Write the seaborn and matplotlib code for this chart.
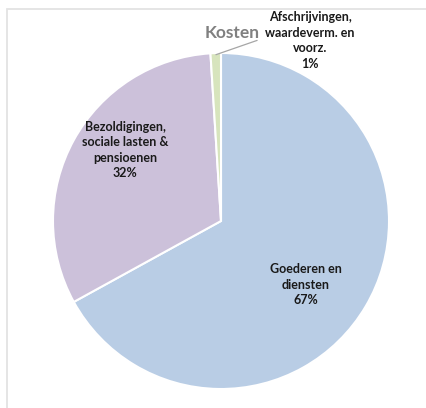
import numpy as np
import matplotlib
matplotlib.use("Agg")
import matplotlib.pyplot as plt
import seaborn as sns
from matplotlib.patches import Rectangle

categories = ["Goederen en\ndiensten", "Bezoldigingen,\nsociale lasten &\npensioenen",
              "Afschrijvingen,\nwaardeverm. en\nvoorz."]
values = [67, 32, 1]
colors = ["#B9CDE5", "#CCC1DA", "#D7E4BD"]

sns.set_theme(style="white")
plt.rcParams['font.family'] = ['Lato', 'DejaVu Sans']

fig = plt.figure(figsize=(4.26, 4.08), dpi=100)
fig.patch.set_facecolor("white")

# light frame like the spreadsheet chart area
fig.patches.append(Rectangle((7 / 426, -0.1), 1.2, 1 - 9 / 408 + 0.1, transform=fig.transFigure,
                             fill=False, edgecolor="#E3E3E3", linewidth=1.3))

cx, cy, r = 221, 221, 168
ax = fig.add_axes([(cx - r) / 426, (408 - cy - r) / 408, 2 * r / 426, 2 * r / 408])
wedges, _ = ax.pie(values, colors=sns.color_palette(colors), startangle=90, counterclock=False,
                   wedgeprops={"linewidth": 1.5, "edgecolor": "white"})
ax.set_xlim(-1, 1)
ax.set_ylim(-1, 1)
ax.set_aspect("auto")
ax.axis("off")

# label placement (radius, angle in degrees) like the Excel best-fit labels
label_pos = [(0.63, -37), (0.71, 143.5)]

fs = 9
for i, (w, lab, v) in enumerate(zip(wedges, categories, values)):
    txt = f"{lab}\n{v}%"
    if i < 2:
        rr, ang = label_pos[i]
        a = np.deg2rad(ang)
        ax.text(rr * np.cos(a), rr * np.sin(a), txt, ha="center", va="center",
                fontsize=fs, fontweight="bold", color="#1a1a1a", linespacing=1.35)
    else:
        ax.text(0.53, 1.075, txt, ha="center", va="center", fontsize=fs,
                fontweight="bold", color="#1a1a1a", linespacing=1.35, clip_on=False)
        ax.plot([-0.03, 0.215], [0.99, 1.075], color="#A6A6A6", lw=0.9, clip_on=False)

fig.text(232 / 426, 1 - 33 / 408, "Kosten", ha="center", va="center",
         fontsize=12.5, fontweight="bold", color="#808080")

fig.savefig("out.png", dpi=100)
